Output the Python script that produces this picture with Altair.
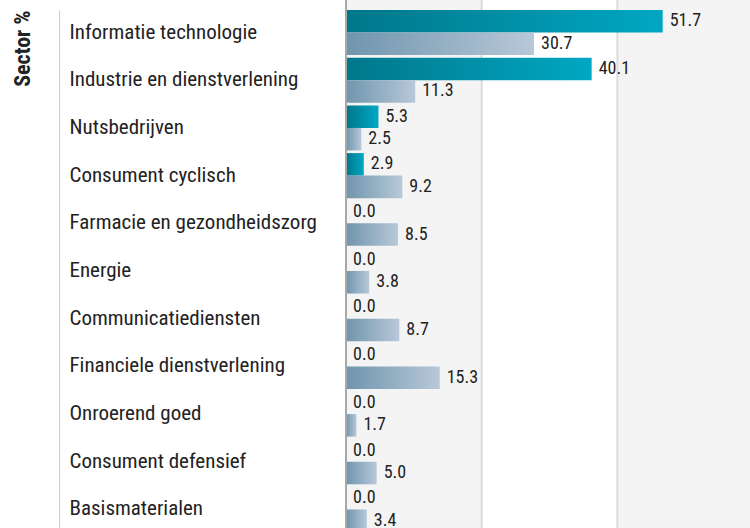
import altair as alt
import pandas as pd

categories = [
    "Informatie technologie",
    "Industrie en dienstverlening",
    "Nutsbedrijven",
    "Consument cyclisch",
    "Farmacie en gezondheidszorg",
    "Energie",
    "Communicatiediensten",
    "Financiele dienstverlening",
    "Onroerend goed",
    "Consument defensief",
    "Basismaterialen",
]
fund_values = [51.7, 40.1, 5.3, 2.9, 0.0, 0.0, 0.0, 0.0, 0.0, 0.0, 0.0]
index_values = [30.7, 11.3, 2.5, 9.2, 8.5, 3.8, 8.7, 15.3, 1.7, 5.0, 3.4]
series_names = ["Fonds", "Index"]
grid_ticks = [22.15, 44.3]
band_edges = [[0.0, 22.15], [44.3, 66.0]]

rows = []
for c, f, i in zip(categories, fund_values, index_values):
    rows.append({"sector": c, "series": series_names[0], "value": f})
    rows.append({"sector": c, "series": series_names[1], "value": i})
df = pd.DataFrame(rows)

bg_df = pd.DataFrame({"x0": [b[0] for b in band_edges], "x1": [b[1] for b in band_edges]})
grid_df = pd.DataFrame({"x": grid_ticks})
zero_df = pd.DataFrame({"x": [0.0]})

FONT = "Roboto Condensed, Liberation Sans Narrow, Roboto"

xscale = alt.Scale(domain=[0, 65.95], nice=False, zero=True)
y_axis = alt.Axis(
    title="Sector %",
    offset=287,
    labelAlign="left",
    labelPadding=-10,
    ticks=False,
    tickSize=0,
    grid=False,
    domainColor="#cccccc",
    domainWidth=1,
    labelFont=FONT,
    labelFontSize=21,
    labelColor="#222222",
    labelLimit=0,
    titleFont=FONT,
    titleFontSize=22,
    titleFontWeight="bold",
    titleColor="#222222",
    titleAngle=270,
    titleAlign="right",
    titleBaseline="middle",
    titleX=-37,
    titleY=0,
)
y_enc = alt.Y(
    "sector:N",
    sort=categories,
    scale=alt.Scale(domain=categories, range=[0, 522], paddingInner=0.055, paddingOuter=0),
    axis=y_axis,
)
yoff = alt.YOffset("series:N", scale=alt.Scale(domain=series_names, paddingInner=0, paddingOuter=0))

bg = alt.Chart(bg_df).mark_rect(color="#f4f4f4").encode(
    x=alt.X("x0:Q", scale=xscale, axis=None),
    x2="x1:Q",
    y=alt.value(-10),
    y2=alt.value(530),
)
grid = alt.Chart(grid_df).mark_rule(color="#dcdcdc", strokeWidth=2).encode(
    x=alt.X("x:Q", scale=xscale, axis=None),
    y=alt.value(-10),
    y2=alt.value(530),
)

teal = alt.Gradient(
    gradient="linear",
    stops=[alt.GradientStop(color="#00778a", offset=0), alt.GradientStop(color="#00a7c3", offset=1)],
    x1=0, x2=1, y1=0, y2=0,
)
slate = alt.Gradient(
    gradient="linear",
    stops=[alt.GradientStop(color="#6f95ad", offset=0), alt.GradientStop(color="#b8c8d8", offset=1)],
    x1=0, x2=1, y1=0, y2=0,
)

base = alt.Chart(df)
bars1 = base.transform_filter(alt.datum.series == series_names[0]).mark_bar(color=teal).encode(
    x=alt.X("value:Q", scale=xscale, axis=None),
    y=y_enc,
    yOffset=yoff,
)
bars2 = base.transform_filter(alt.datum.series == series_names[1]).mark_bar(color=slate).encode(
    x=alt.X("value:Q", scale=xscale, axis=None),
    y=y_enc,
    yOffset=yoff,
)
zero = alt.Chart(zero_df).mark_rule(color="#a8a8a8", strokeWidth=2).encode(
    x=alt.X("x:Q", scale=xscale, axis=None),
    y=alt.value(-10),
    y2=alt.value(530),
)
texts = base.mark_text(align="left", baseline="middle", dx=7, font=FONT, fontSize=18, color="#222222").encode(
    x=alt.X("value:Q", scale=xscale, axis=None),
    y=y_enc,
    yOffset=yoff,
    text=alt.Text("value:Q", format=".1f"),
)

chart = alt.layer(bg, grid, bars1, bars2, zero, texts).properties(
    width=404,
    height=518,
    autosize=alt.AutoSizeParams(type="none"),
    padding={"left": 346, "top": 10, "right": 0, "bottom": 0},
).configure_view(stroke=None)

chart.save("out.html", embed_options={"renderer": "svg", "actions": False})
